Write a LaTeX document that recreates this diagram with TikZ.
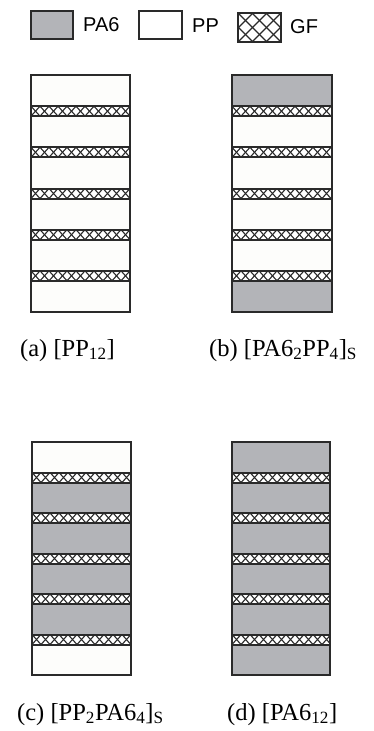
\documentclass[tikz,border=0pt]{standalone}
\usepackage{fontspec}
\setmainfont{Liberation Serif}
\newfontfamily\legendfont{Liberation Sans}
\definecolor{pagray}{HTML}{B3B4B8}
\definecolor{ppwhite}{HTML}{FDFDFB}
\definecolor{edge}{HTML}{2A2A2A}
\tikzset{
  frame/.style={draw=edge, line width=2pt},
  bandline/.style={draw=edge, line width=2pt},
  hatch/.style={draw=edge, line width=1.1pt},
  caption/.style={anchor=base west, inner sep=0pt, font=\fontsize{24.5}{28}\selectfont},
  legendtext/.style={anchor=west, inner sep=0pt, font=\legendfont\fontsize{20}{23}\selectfont}
}
% \lamstack{x0}{x1}{top}{bottom}{outer colour}{inner colour}
% six resin plies separated by five glass-fibre plies
\newcommand{\lamstack}[6]{%
  \pgfmathsetmacro\plyh{(#4-#3-50)/6}
  \foreach \i in {0,...,5}{
    \pgfmathsetmacro\yt{#3+\i*(\plyh+10)}
    \pgfmathsetmacro\yb{\yt+\plyh}
    \ifnum\i=0 \def\plycol{#5}\else\ifnum\i=5 \def\plycol{#5}\else\def\plycol{#6}\fi\fi
    \fill[\plycol] (#1,\yt) rectangle (#2,\yb);
  }
  \foreach \i in {1,...,5}{
    \pgfmathsetmacro\gt{#3+\i*\plyh+(\i-1)*10}
    \pgfmathsetmacro\gb{\gt+10}
    \fill[white] (#1,\gt) rectangle (#2,\gb);
    \begin{scope}
      \clip (#1,\gt) rectangle (#2,\gb);
      \foreach \xx in {-18,-9,...,108}{
        \draw[hatch] (#1+\xx,\gt) -- (#1+\xx+9,\gb);
        \draw[hatch] (#1+\xx,\gb) -- (#1+\xx+9,\gt);
      }
    \end{scope}
    \draw[bandline] (#1,\gt) -- (#2,\gt);
    \draw[bandline] (#1,\gb) -- (#2,\gb);
  }
  \draw[frame] (#1,#3) rectangle (#2,#4);
}
\begin{document}
\begin{tikzpicture}[x=1pt,y=-1pt]
  \useasboundingbox (0,0) rectangle (373,731);
  \fill[white] (0,0) rectangle (373,731);

  % legend
  \draw[frame, fill=pagray] (31,11) rectangle (73,39);
  \node[legendtext] (lpa) at (83,25) {PA6};
  \draw[frame, fill=white] (139,11) rectangle (182,39);
  \node[legendtext] (lpp) at (192,26) {PP};
  \fill[white] (238,13) rectangle (281,42);
  \begin{scope}
    \clip (238,13) rectangle (281,42);
    \foreach \xx in {-42,-28,...,56}{
      \draw[hatch] (238+\xx,13) -- (238+\xx+29,42);
      \draw[hatch] (238+\xx,42) -- (238+\xx+29,13);
    }
  \end{scope}
  \draw[frame] (238,13) rectangle (281,42);
  \node[legendtext] (lgf) at (290,27) {GF};

  % laminates
  \lamstack{31}{130}{75}{312}{ppwhite}{ppwhite}
  \lamstack{232}{332}{75}{312}{pagray}{ppwhite}
  \lamstack{32}{131}{442}{675}{ppwhite}{pagray}
  \lamstack{232}{330}{442}{675}{pagray}{pagray}

  % captions
  \node[caption] (ca) at (20,356) {(a) [PP\textsubscript{12}]};
  \node[caption] (cb) at (209,356) {(b) [PA6\textsubscript{2}PP\textsubscript{4}]\textsubscript{S}};
  \node[caption] (cc) at (17,720) {(c) [PP\textsubscript{2}PA6\textsubscript{4}]\textsubscript{S}};
  \node[caption] (cd) at (227,720) {(d) [PA6\textsubscript{12}]};
\end{tikzpicture}
\end{document}
